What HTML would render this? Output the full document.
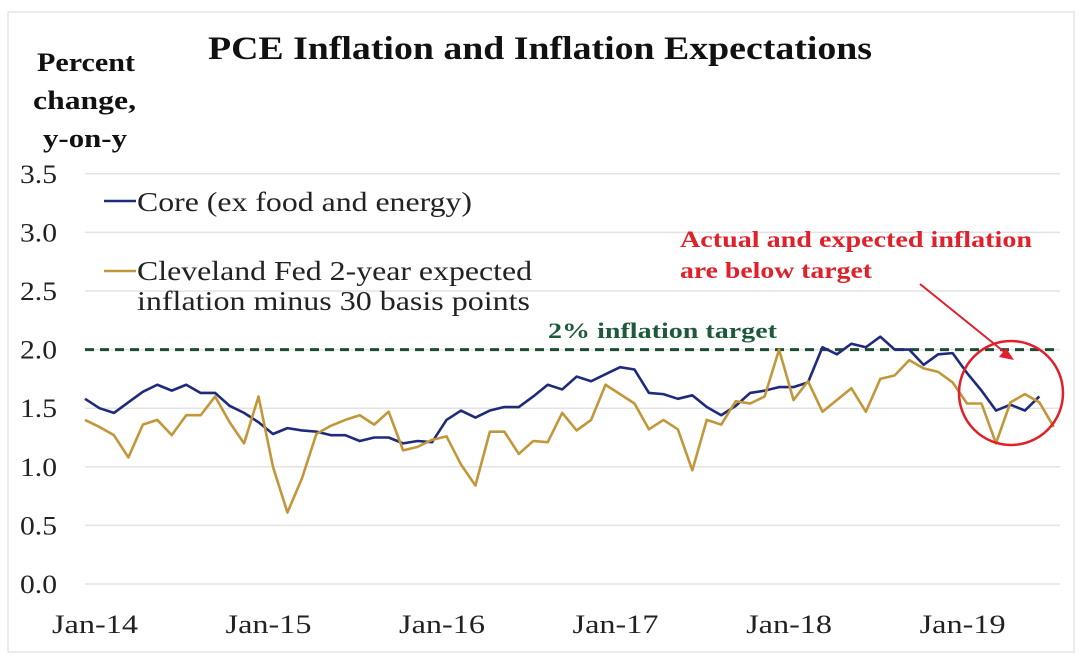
<!DOCTYPE html>
<html><head><meta charset="utf-8"><style>
html,body{margin:0;padding:0;background:#fff;}
svg{display:block;font-family:"Liberation Serif",serif;}
</style></head><body>
<svg id="chart" width="1080" height="657" viewBox="0 0 1080 657">
<rect x="8" y="12" width="1066" height="640" fill="#fff" stroke="#e6e6e6" stroke-width="1.5"/>
<text x="208" y="59" font-size="33" font-weight="bold" fill="#111" textLength="664" lengthAdjust="spacingAndGlyphs">PCE Inflation and Inflation Expectations</text>
<g font-size="26" font-weight="bold" fill="#111">
<text x="37" y="71" textLength="98" lengthAdjust="spacingAndGlyphs">Percent</text>
<text x="33" y="109" textLength="103" lengthAdjust="spacingAndGlyphs">change,</text>
<text x="43" y="147" textLength="84" lengthAdjust="spacingAndGlyphs">y-on-y</text></g>
<g id="grid"></g>
<g id="yticks" font-size="26" fill="#222"></g>
<g id="xticks" font-size="26" fill="#222"></g>
<line id="target" stroke="#1e4d34" stroke-width="3" stroke-dasharray="9,6"/>
<text x="548" y="338" font-size="22" font-weight="bold" fill="#1e5a3a" textLength="229" lengthAdjust="spacingAndGlyphs">2% inflation target</text>
<g id="series"></g>
<g>
<line x1="104" y1="201" x2="136" y2="201" stroke="#1f2a7a" stroke-width="2.5"/>
<text x="137" y="211" font-size="27" fill="#222" textLength="335" lengthAdjust="spacingAndGlyphs">Core (ex food and energy)</text>
<line x1="104" y1="271" x2="136" y2="271" stroke="#c2973a" stroke-width="2.5"/>
<text x="137" y="280" font-size="27" fill="#222" textLength="395" lengthAdjust="spacingAndGlyphs">Cleveland Fed 2-year expected</text>
<text x="137" y="310" font-size="27" fill="#222" textLength="393" lengthAdjust="spacingAndGlyphs">inflation minus 30 basis points</text>
</g>
<g>
<text x="680" y="247" font-size="23" font-weight="bold" fill="#e0202a" textLength="352" lengthAdjust="spacingAndGlyphs">Actual and expected inflation</text>
<text x="680" y="278" font-size="23" font-weight="bold" fill="#e0202a" textLength="192" lengthAdjust="spacingAndGlyphs">are below target</text>
<line x1="920" y1="284" x2="1008" y2="355" stroke="#e0202a" stroke-width="2"/>
<polygon points="1014,360 999,357 1006,348" fill="#e0202a"/>
<circle cx="1011" cy="393" r="52" fill="none" stroke="#e0202a" stroke-width="2.5"/>
</g>
</svg>
<script>
const yTicks=[0,0.5,1.0,1.5,2.0,2.5,3.0,3.5];
const xTickLabels=["Jan-14","Jan-15","Jan-16","Jan-17","Jan-18","Jan-19"];
const xTickIdx=[0,12,24,36,48,60];
const targetValue=2.0;
const core=[1.58,1.50,1.46,1.55,1.64,1.70,1.65,1.70,1.63,1.63,1.52,1.46,1.38,1.28,1.33,1.31,1.30,1.27,1.27,1.22,1.25,1.25,1.20,1.22,1.21,1.40,1.48,1.42,1.48,1.51,1.51,1.60,1.70,1.66,1.77,1.73,1.79,1.85,1.83,1.63,1.62,1.58,1.61,1.51,1.44,1.52,1.63,1.65,1.68,1.68,1.72,2.02,1.96,2.05,2.02,2.11,2.00,2.00,1.87,1.96,1.97,1.80,1.65,1.48,1.53,1.48,1.60];
const expected=[1.40,1.34,1.27,1.08,1.36,1.40,1.27,1.44,1.44,1.60,1.38,1.20,1.60,1.00,0.61,0.90,1.28,1.35,1.40,1.44,1.36,1.47,1.14,1.17,1.23,1.26,1.02,0.84,1.30,1.30,1.11,1.22,1.21,1.46,1.31,1.40,1.70,1.62,1.54,1.32,1.40,1.32,0.97,1.40,1.36,1.56,1.54,1.60,2.00,1.57,1.73,1.47,1.57,1.67,1.47,1.75,1.78,1.91,1.84,1.81,1.72,1.54,1.54,1.20,1.55,1.62,1.55,1.34];
const NS="http://www.w3.org/2000/svg";
const X=i=>85+i*14.46;
const Y=v=>584-v*117.2;
const grid=document.getElementById('grid'),yt=document.getElementById('yticks'),xt=document.getElementById('xticks');
yTicks.forEach(v=>{
 const l=document.createElementNS(NS,'line');
 l.setAttribute('x1',85);l.setAttribute('x2',1060);l.setAttribute('y1',Y(v));l.setAttribute('y2',Y(v));
 l.setAttribute('stroke','#e3e3e3');l.setAttribute('stroke-width','1.5');
 
 
 grid.appendChild(l);
 const t=document.createElementNS(NS,'text');
 t.setAttribute('x',20);t.setAttribute('y',Y(v)+9);t.textContent=v.toFixed(1);
 t.setAttribute('textLength',37);t.setAttribute('lengthAdjust','spacingAndGlyphs');
 
 
 yt.appendChild(t);
});
xTickLabels.forEach((s,k)=>{
 const t=document.createElementNS(NS,'text');
 t.setAttribute('x',X(xTickIdx[k])-33);t.setAttribute('y',633);t.textContent=s;
 t.setAttribute('textLength',86);t.setAttribute('lengthAdjust','spacingAndGlyphs');
 
 
 xt.appendChild(t);
});
const tl=document.getElementById('target');
tl.setAttribute('x1',85);tl.setAttribute('x2',1060);tl.setAttribute('y1',Y(targetValue));tl.setAttribute('y2',Y(targetValue));
const sg=document.getElementById('series');
function line(arr,color,name){
 const p=document.createElementNS(NS,'polyline');
 p.setAttribute('points',arr.map((v,i)=>X(i)+','+Y(v)).join(' '));
 p.setAttribute('fill','none');p.setAttribute('stroke',color);p.setAttribute('stroke-width','2.6');p.setAttribute('stroke-linejoin','round');
 
 
 sg.appendChild(p);
}
line(core,'#1f2a7a','core-line');
line(expected,'#c2973a','expected-line');
</script>
</body></html>
